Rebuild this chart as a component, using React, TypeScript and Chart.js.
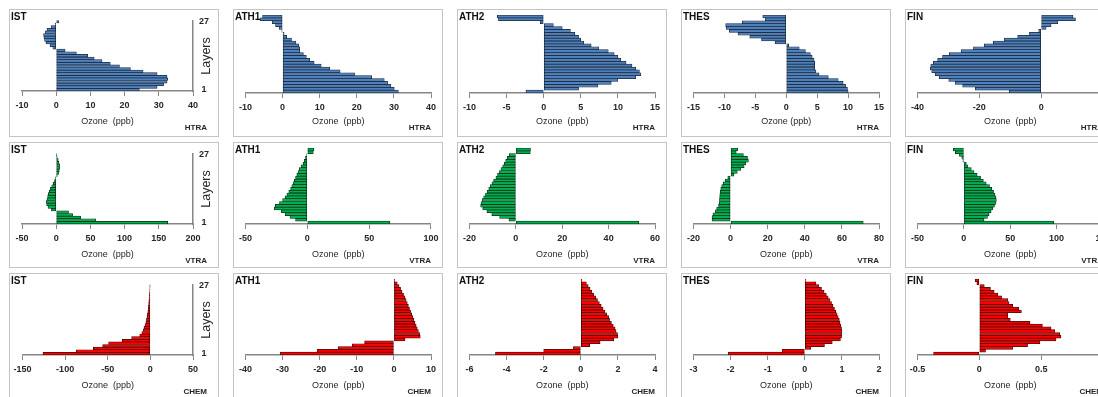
import React, { useEffect, useRef } from 'react';
import { Chart, registerables } from 'chart.js';
Chart.register(...registerables);

const LAYERS = ['1','2','3','4','5','6','7','8','9','10','11','12','13','14','15','16','17','18','19','20','21','22','23','24','25','26','27'];
const STATIONS = ['IST', 'ATH1', 'ATH2', 'THES', 'FIN'];
const PROCESSES = ['HTRA', 'VTRA', 'CHEM'];

// values listed from layer 1 (bottom) to layer 27 (top), ozone in ppb
const IST_HTRA = [24.3, 29.5, 31.4, 32.4, 32.6, 32.4, 29.5, 25.4, 21.7, 18.5, 15.8, 13.4, 11.1, 9.2, 5.9, 2.6, -1.0, -1.8, -3.0, -3.4, -3.6, -3.7, -3.2, -2.7, -1.5, -0.3, 0.8];
const ATH1_HTRA = [31.2, 30.1, 29.2, 28.3, 27.4, 24.0, 19.4, 15.5, 12.7, 10.4, 8.5, 7.3, 6.4, 5.6, 4.6, 4.6, 4.4, 3.6, 2.4, 1.1, 0.4, -0.2, -0.9, -1.9, -2.8, -6.1, -5.4];
const ATH2_HTRA = [-2.4, 4.7, 7.3, 9.1, 10.0, 12.4, 13.1, 12.9, 12.4, 11.9, 11.1, 10.4, 10.0, 9.5, 8.7, 7.4, 6.4, 5.4, 5.0, 4.7, 4.2, 3.6, 2.5, 1.3, -0.45, -6.1, -6.25];
const THES_HTRA = [10.0, 9.9, 9.6, 9.2, 8.4, 6.8, 5.3, 4.8, 4.6, 4.6, 4.6, 4.5, 4.2, 3.9, 3.1, 2.1, 0.4, -1.8, -4.0, -5.9, -7.8, -9.2, -9.7, -9.8, -7.1, -3.4, -3.8];
const FIN_HTRA = [-10.3, -21.3, -25.4, -27.8, -29.9, -33.0, -34.3, -35.4, -35.9, -35.7, -34.9, -33.5, -31.9, -29.7, -25.9, -21.9, -18.4, -15.5, -11.9, -7.6, -3.8, -0.8, 1.6, 3.2, 5.4, 11.1, 10.3];

const IST_VTRA = [163, 58, 36, 24, 18, -7, -12, -14, -14.5, -13.5, -12.5, -11.5, -10, -8.5, -6.5, -4.5, -2.5, -1, 1.5, 3.5, 4.5, 5, 5, 4, 3, 1.5, 0.5];
const ATH1_VTRA = [66.8, -9.5, -14, -18, -21, -26.8, -26, -22.5, -20, -18, -16.5, -15, -13.5, -12.5, -11.5, -10.5, -9.5, -8.5, -7.5, -6.5, -5, -3.5, -2.5, -1.5, -0.5, 4.8, 5.4];
const ATH2_VTRA = [53, -3, -7, -10.4, -12.5, -14.3, -15.2, -15, -14.5, -13.9, -13.1, -12.4, -11.7, -11, -10.3, -9.6, -8.6, -7.9, -7.1, -6.4, -5.7, -5.0, -4.4, -3.7, -2.9, 6.2, 6.3];
const THES_VTRA = [71.5, -10.0, -10.0, -9.5, -8.2, -7.5, -6.5, -6.1, -6.0, -5.9, -5.8, -5.6, -5.3, -4.8, -4.0, -3.0, -1.5, 1.8, 3.6, 5.5, 7.3, 8.2, 9.6, 9.1, 6.9, 3.0, 3.8];
const FIN_VTRA = [97, 21.7, 25.4, 27.2, 29.4, 31.3, 33, 34.6, 35, 34.6, 33.5, 32, 30.1, 27.6, 24, 21, 18, 14.3, 11, 8, 4.4, 2.6, -1, -2.2, -4.8, -9.2, -11.4];

const IST_CHEM = [-126, -87, -67, -56, -49, -33, -22, -12.5, -10, -8.5, -7.5, -6.2, -5.3, -4.6, -4.0, -3.5, -3.0, -2.7, -2.3, -2.0, -1.8, -1.5, -1.2, -1.0, -0.7, -0.5, -0.3];
const ATH1_CHEM = [-30.6, -20.7, -15, -11.2, -7.9, 3.0, 7.1, 7.0, 6.6, 6.3, 6.0, 5.7, 5.4, 5.1, 4.8, 4.5, 4.2, 3.9, 3.6, 3.3, 3.0, 2.6, 2.2, 1.8, 1.4, 0.9, 0.2];
const ATH2_CHEM = [-4.6, -2.0, -0.4, 0.48, 1.04, 1.78, 2.0, 1.98, 1.9, 1.85, 1.75, 1.65, 1.55, 1.5, 1.4, 1.3, 1.2, 1.1, 1.0, 0.9, 0.8, 0.7, 0.6, 0.5, 0.4, 0.3, 0.05];
const THES_CHEM = [-2.06, -0.61, 0.16, 0.53, 0.74, 0.96, 0.99, 1.0, 1.0, 0.99, 0.97, 0.95, 0.93, 0.9, 0.87, 0.84, 0.8, 0.76, 0.72, 0.68, 0.63, 0.58, 0.52, 0.45, 0.38, 0.3, 0.02];
const FIN_CHEM = [-0.37, 0.05, 0.27, 0.39, 0.49, 0.62, 0.66, 0.65, 0.61, 0.58, 0.51, 0.41, 0.25, 0.23, 0.23, 0.34, 0.32, 0.27, 0.24, 0.23, 0.18, 0.15, 0.12, 0.09, 0.04, -0.02, -0.034];

const HTRA_MIN = [-10, -10, -10, -15, -40];
const HTRA_MAX = [40, 40, 15, 15, 20];
const HTRA_STEP = [10, 10, 5, 5, 20];
const VTRA_MIN = [-50, -50, -20, -20, -50];
const VTRA_MAX = [200, 100, 60, 80, 150];
const VTRA_STEP = [50, 50, 20, 20, 50];
const CHEM_MIN = [-150, -40, -6, -3, -0.5];
const CHEM_MAX = [50, 10, 4, 2, 1];
const CHEM_STEP = [50, 10, 2, 1, 0.5];

const SERIES = [
  [IST_HTRA, ATH1_HTRA, ATH2_HTRA, THES_HTRA, FIN_HTRA],
  [IST_VTRA, ATH1_VTRA, ATH2_VTRA, THES_VTRA, FIN_VTRA],
  [IST_CHEM, ATH1_CHEM, ATH2_CHEM, THES_CHEM, FIN_CHEM],
];
const AXES = [
  [HTRA_MIN, HTRA_MAX, HTRA_STEP],
  [VTRA_MIN, VTRA_MAX, VTRA_STEP],
  [CHEM_MIN, CHEM_MAX, CHEM_STEP],
];
const FILLS = ['#4f81bd', '#00b050', '#ff0000'];
const EDGES = ['#1b2636', '#0d2a16', '#3a0a0a'];

const COL_X = [9, 233, 457, 681, 905];
const ROW_Y = [9, 142, 273];
const PW = 210;
const PH = 128;
const FONT = "'Liberation Sans', Arial, sans-serif";
const TXT = '#262626';
const AXIS = '#868686';

type PanelProps = { row: number; col: number };

function Panel({ row, col }: PanelProps) {
  const ref = useRef<HTMLCanvasElement | null>(null);
  const isIST = col === 0;
  const left = COL_X[col];
  const top = ROW_Y[row];
  const plotTop = 6;
  const plotBottom = row === 0 && !isIST ? 84 : 82;
  const station = STATIONS[col];
  const proc = PROCESSES[row];
  const xTitle = row === 0 && col === 3 ? 'Ozone (ppb)' : 'Ozone  (ppb)';

  useEffect(() => {
    const [mins, maxs, steps] = AXES[row];
    const chart = new Chart(ref.current as HTMLCanvasElement, {
      type: 'bar',
      data: {
        labels: LAYERS,
        datasets: [{
          data: SERIES[row][col],
          backgroundColor: FILLS[row],
          borderColor: EDGES[row],
          borderWidth: 0.75,
          borderSkipped: false,
          barPercentage: 1,
          categoryPercentage: 1,
        }],
      },
      options: {
        indexAxis: 'y',
        animation: false,
        responsive: false,
        maintainAspectRatio: false,
        events: [],
        layout: {
          padding: {
            left: isIST ? 13 : 12.5,
            right: isIST ? 0 : PW - 198,
            top: plotTop,
            bottom: 0,
          },
        },
        plugins: { legend: { display: false }, tooltip: { enabled: false } },
        scales: {
          x: {
            type: 'linear',
            position: 'bottom',
            min: mins[col],
            max: maxs[col],
            ticks: {
              stepSize: steps[col],
              autoSkip: false,
              maxRotation: 0,
              padding: 4.5,
              color: TXT,
              font: { family: FONT, size: 9, weight: 'bold' },
              callback: (v: any) => String(Math.round(Number(v) * 100) / 100),
            },
            grid: {
              display: true,
              drawOnChartArea: false,
              drawTicks: true,
              tickLength: 5,
              color: AXIS,
              lineWidth: 1,
            },
            border: { display: true, color: AXIS, width: 1.5 },
            title: {
              display: true,
              text: xTitle,
              color: TXT,
              font: { family: FONT, size: 9 },
              padding: { top: 0, bottom: 10 },
            },
            afterFit: (s: any) => { s.height = PH - plotBottom; },
          },
          y: {
            type: 'category',
            reverse: true,
            display: isIST,
            position: 'right',
            offset: true,
            grid: { display: false, drawTicks: false },
            border: { display: isIST, color: AXIS, width: 1.5 },
            ticks: {
              autoSkip: false,
              padding: 6,
              crossAlign: 'center',
              color: TXT,
              font: { family: FONT, size: 9, weight: 'bold' },
              callback: (_v: any, i: number) => (i === 0 || i === LAYERS.length - 1 ? LAYERS[i] : ''),
            },
            afterFit: (s: any) => { s.width = isIST ? PW - 184 : 0; },
          },
        },
      } as any,
    });
    return () => chart.destroy();
  }, [row, col]);

  return (
    <>
      <div style={{ position: 'absolute', left, top, width: PW, height: row === 1 ? 126 : PH, border: '1px solid #c4c4c4', boxSizing: 'border-box', background: '#fff' }} />
      <canvas ref={ref} width={PW} height={PH} style={{ position: 'absolute', left, top, width: PW, height: PH }} />
      <div style={{ position: 'absolute', left: left + 2, top: top + 2, font: `bold 10px ${FONT}`, lineHeight: '12px', color: '#111' }}>{station}</div>
      <div style={{ position: 'absolute', left: left + 150, width: 48, top: top + 113, textAlign: 'right', font: `bold 8px ${FONT}`, lineHeight: '12px', color: TXT }}>{proc}</div>
      {isIST && (
        <div style={{ position: 'absolute', left: left + 197 - 30, top: top + 47 - 8, width: 60, height: 16, textAlign: 'center', font: `12.5px ${FONT}`, lineHeight: '16px', color: TXT, transform: 'rotate(-90deg)' }}>Layers</div>
      )}
    </>
  );
}

export default function App() {
  const panels = [] as any[];
  for (let r = 0; r < 3; r++) {
    for (let c = 0; c < 5; c++) {
      panels.push(<Panel key={`${r}-${c}`} row={r} col={c} />);
    }
  }
  return (
    <div style={{ position: 'fixed', left: 0, top: 0, width: 1098, height: 397, overflow: 'hidden', background: '#fff' }}>
      {panels}
    </div>
  );
}
